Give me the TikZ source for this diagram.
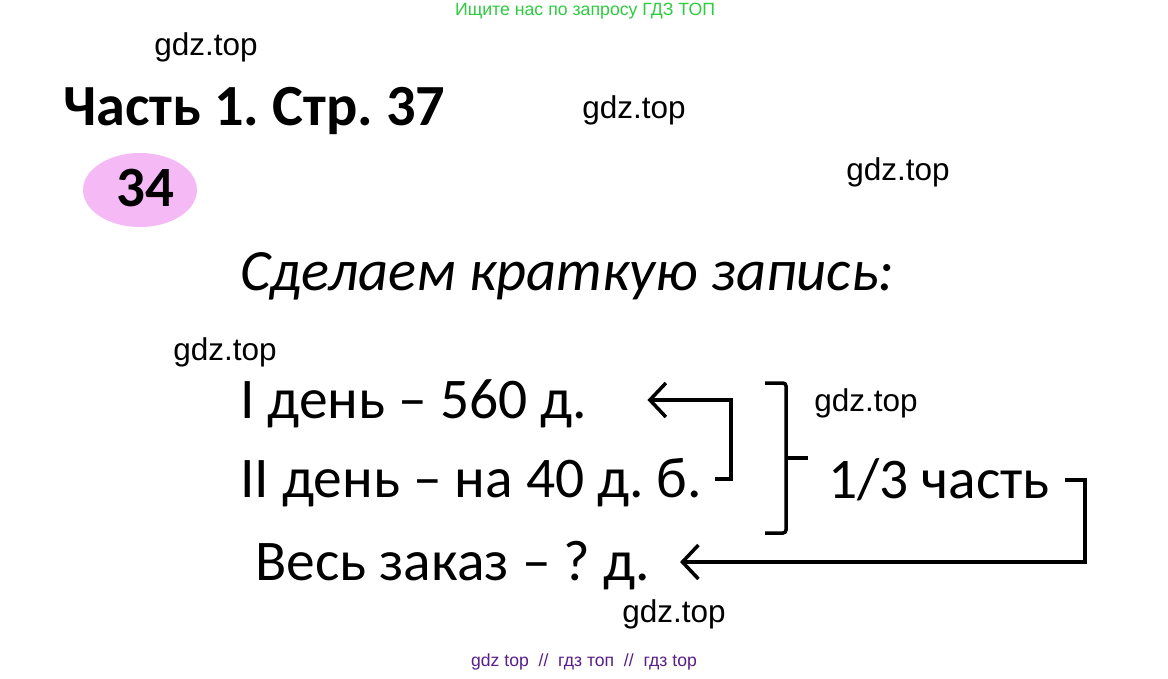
\documentclass[tikz,border=0pt]{standalone}
\usepackage{fontspec}
\setmainfont{Carlito}
\newfontfamily\wmfont{Liberation Sans}
\usetikzlibrary{arrows.meta}
\usetikzlibrary{positioning}
\definecolor{wmgreen}{RGB}{46,204,64}
\definecolor{wmpurple}{RGB}{88,30,140}
\definecolor{badgepink}{RGB}{245,185,245}
\frenchspacing
\tikzset{
  wm/.style={font=\wmfont\fontsize{31.5}{36}\selectfont, inner sep=0pt},
  note/.style={font=\fontsize{57.5}{64}\selectfont, anchor=base west, inner sep=0pt,
    text height=36pt, text depth=0pt},
  link/.style={line width=3.5pt, -{Straight Barb[length=16pt,width=34pt]}},
  brk/.style={line width=3.5pt, rounded corners=3pt},
}

\begin{document}
\begin{tikzpicture}[x=1pt,y=-1pt]
  \useasboundingbox[fill=white] (0,0) rectangle (1168,678);

  % watermarks
  \node[font=\wmfont\fontsize{17.7}{20}\selectfont, text=wmgreen] (top) at (585,11) {Ищите нас по запросу ГДЗ ТОП};
  \node[wm] (wm1) at (206,47) {gdz.top};
  \node[wm] (wm2) at (634,110) {gdz.top};
  \node[wm] (wm3) at (898,172) {gdz.top};
  \node[wm] (wm4) at (225,352) {gdz.top};
  \node[wm] (wm5) at (866,403) {gdz.top};
  \node[wm] (wm6) at (674,614) {gdz.top};
  \node[font=\wmfont\fontsize{17.6}{20}\selectfont, text=wmpurple] (bottom) at (584,662) {gdz top~~//~~гдз топ~~//~~гдз top};

  % heading
  \node[anchor=base west, inner sep=0pt, font=\bfseries\fontsize{58.3}{66}\selectfont] (title) at (63,125) {Часть 1. Стр. 37};
  \fill[badgepink] (140,190) ellipse [x radius=57, y radius=37];
  \node[font=\bfseries\fontsize{57}{64}\selectfont] (num) at (145,188) {34};
  \node[anchor=base west, inner sep=0pt, font=\itshape\fontsize{58.5}{66}\selectfont] (task) at (240,290) {Сделаем краткую запись:};

  % short record
  \node[note] (l1) at (240,418) {I день – 560 д.};
  \node[note] (l2) at (240,497) {II день – на 40 д. б.};
  \node[note] (l3) at (255,580) {Весь заказ – ? д.};
  \node[note] (part) at (828,498) {1/3 часть};

  \coordinate (bend1) at (731,440);
  \coordinate (bend2) at (1085,520);
  \draw[link] ([xshift=13pt]l2.east) -| (bend1) |- ([xshift=60pt]l1.east);
  \draw[link] ([xshift=15pt]part.east) -| (bend2) |- ([xshift=30pt]l3.east);

  % bracket
  \draw[brk] (765,383) -- (786,383) -- (786,533) -- (765,533);
  \draw[brk] (786,458) -- (808,458);
\end{tikzpicture}
\end{document}
